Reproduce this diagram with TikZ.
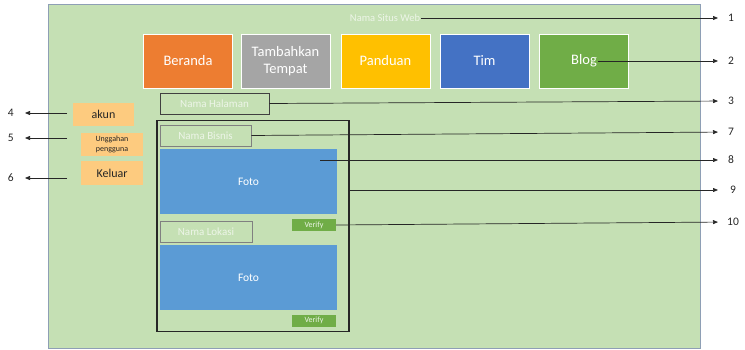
\documentclass[tikz,border=0pt]{standalone}
\usepackage{fontspec}
\setmainfont{Carlito}
\usetikzlibrary{arrows.meta}
\definecolor{panelbg}{HTML}{C5E0B4}
\definecolor{panelrim}{HTML}{8E9FB5}
\definecolor{cOrange}{HTML}{ED7D31}
\definecolor{cGray}{HTML}{A5A5A5}
\definecolor{cGold}{HTML}{FFC000}
\definecolor{cBlue}{HTML}{4472C4}
\definecolor{cGreen}{HTML}{70AD47}
\definecolor{cPhoto}{HTML}{5B9BD5}
\definecolor{cMenu}{HTML}{FDCB7F}
\definecolor{faint}{HTML}{EDF5E8}
\definecolor{ink}{HTML}{262626}
\tikzset{
  box/.style={rectangle, inner sep=0pt, align=center},
  navbtn/.style={box, draw=white, line width=0.8pt, text=white,
    minimum width=89pt, minimum height=54pt, font=\fontsize{14.5}{16.5}\selectfont},
  tagbox/.style={box, draw=#1, line width=0.8pt, text=faint,
    font=\fontsize{11}{12}\selectfont},
  photo/.style={box, fill=cPhoto, text=white, minimum width=177pt,
    minimum height=65pt, font=\fontsize{11.5}{12}\selectfont},
  verifybtn/.style={box, fill=cGreen, text=faint, minimum width=44pt,
    minimum height=12pt, font=\fontsize{8}{9}\selectfont},
  menubox/.style={box, fill=cMenu, text=ink},
  num/.style={inner sep=0pt, text=ink, font=\fontsize{11.5}{12}\selectfont},
  callout/.style={draw=black!85, line width=0.7pt,
    -{Triangle[length=5pt,width=4pt]}},
}
\begin{document}
\begin{tikzpicture}[x=1pt,y=-1pt]
  \useasboundingbox (0,0) rectangle (745,350);

  % page area
  \node[box, fill=panelbg, draw=panelrim, line width=1pt,
    minimum width=652pt, minimum height=343pt] (panel) at (374,176.5) {};

  % site title
  \node[inner sep=1pt, text=faint, font=\fontsize{10.5}{11}\selectfont]
    (site) at (385,18) {Nama Situs Web};

  % navigation bar
  \node[navbtn, fill=cOrange] (beranda) at (188,61) {Beranda};
  \node[navbtn, fill=cGray] (tambah) at (285.5,61) {Tambahkan\\Tempat};
  \node[navbtn, fill=cGold] (panduan) at (385.5,61) {Panduan};
  \node[navbtn, fill=cBlue] (tim) at (484.5,61) {Tim};
  \node[navbtn, fill=cGreen] (blog) at (584,61) {Blog};

  % page name
  \node[tagbox=black!75, minimum width=109pt, minimum height=21pt]
    (halaman) at (214.5,103.5) {Nama Halaman};

  % listing frame
  \node[box, draw=black!85, line width=1.3pt, minimum width=192pt,
    minimum height=211pt] (frame) at (253,226) {};
  \node[tagbox=black!50, minimum width=91pt, minimum height=21pt]
    (bisnis) at (205.5,135.5) {Nama Bisnis};
  \node[photo] (foto1) at (248.5,182) {Foto};
  \node[verifybtn] (verify1) at (314,225) {Verify};
  \node[tagbox=black!50, minimum width=92pt, minimum height=21pt]
    (lokasi) at (206,231.5) {Nama Lokasi};
  \node[photo] (foto2) at (248.5,277.5) {Foto};
  \node[verifybtn] (verify2) at (314,320.5) {Verify};

  % user menu
  \node[menubox, minimum width=61pt, minimum height=23pt,
    font=\fontsize{12}{13}\selectfont] (akun) at (103.5,114.5) {akun};
  \node[menubox, minimum width=62pt, minimum height=23pt,
    font=\fontsize{8}{10}\selectfont] (unggah) at (112,144.5)
    {Unggahan\\pengguna};
  \node[menubox, minimum width=62pt, minimum height=24pt,
    font=\fontsize{12}{13}\selectfont] (keluar) at (112,173) {Keluar};

  % callout numbers, right
  \node[num, anchor=west] (n1) at (728,18) {1};
  \node[num, anchor=west] (n2) at (728,61) {2};
  \node[num, anchor=west] (n3) at (728,101) {3};
  \node[num, anchor=west] (n7) at (728,132) {7};
  \node[num, anchor=west] (n8) at (728,160) {8};
  \node[num, anchor=west] (n9) at (730,190) {9};
  \node[num, anchor=west] (n10) at (727,222) {10};
  % callout numbers, left
  \node[num, anchor=east] (n4) at (14,113) {4};
  \node[num, anchor=east] (n5) at (14,138) {5};
  \node[num, anchor=east] (n6) at (14,178) {6};

  % free ends of the callouts
  \coordinate (blogtxt) at (598,61);
  \coordinate (fototop) at (320,160);
  \coordinate (m4) at (67,113);
  \coordinate (m5) at (67,138);
  \coordinate (m6) at (67,178);

  % callout lines
  \draw[callout, shorten >=10pt] (site.east) -- (n1.west);
  \draw[callout, shorten >=10pt] (blogtxt) -- (n2.west);
  \draw[callout, shorten >=10pt] (halaman.east) -- (n3.west);
  \draw[callout, shorten >=10pt] (bisnis.east) -- (n7.west);
  \draw[callout, shorten >=10pt] (fototop) -- (n8.west);
  \draw[callout, shorten >=12pt] (frame.east |- n9.west) -- (n9.west);
  \draw[callout, shorten >=9pt] (verify1.east) -- (n10.west);
  \draw[callout, shorten >=11pt] (m4) -- (n4.east);
  \draw[callout, shorten >=11pt] (m5) -- (n5.east);
  \draw[callout, shorten >=11pt] (m6) -- (n6.east);
\end{tikzpicture}
\end{document}
